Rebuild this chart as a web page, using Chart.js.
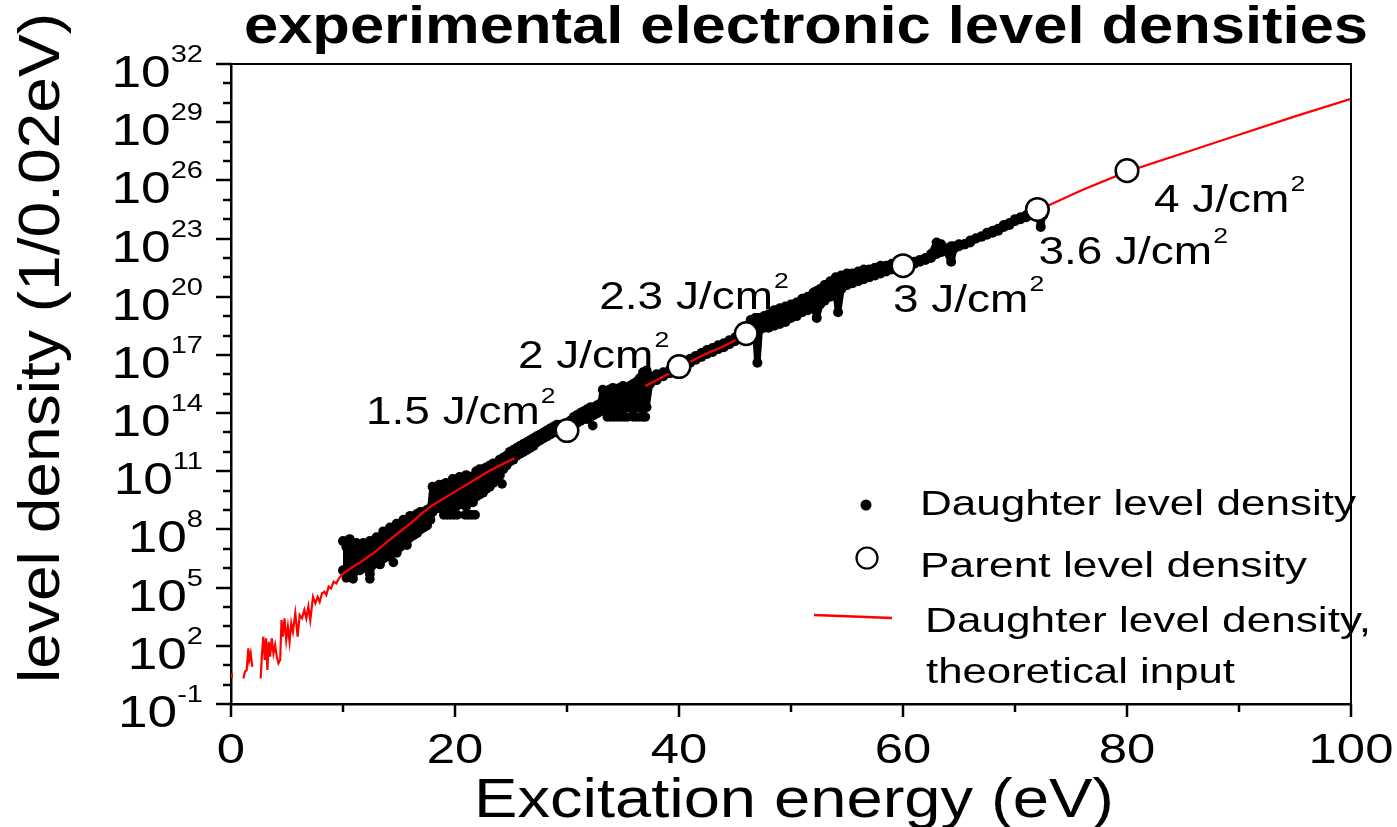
<!DOCTYPE html>
<html>
<head>
<meta charset="utf-8">
<title>experimental electronic level densities</title>
<script src="https://cdn.jsdelivr.net/npm/chart.js@4.4.1/dist/chart.umd.min.js"></script>
<style>
  html, body { margin: 0; padding: 0; background: #ffffff; }
  canvas { display: block; }
</style>
</head>
<body>
<canvas id="chart" width="1397" height="827"></canvas>
<script>
// ---------- data (energies in eV, densities as log10 of levels per 0.02 eV) ----------

// Parent level density at the measured fluences
const parentEnergy = [30, 40, 46, 60, 72, 80];
const parentLog    = [13.1, 16.4, 18.1, 21.6, 24.5, 26.5];
const parentFluence = ['1.5', '2', '2.3', '3', '3.6', '4'];

// Daughter level density: upper / lower extent of the measured band
const daughterEnergy = [
  10.0, 10.3, 10.6, 10.9, 11.2, 11.5, 11.8, 12.1, 12.4, 12.7,
  13.0, 13.3, 13.6, 13.9, 14.2, 14.5, 14.8, 15.1, 15.4, 15.7,
  16.0, 16.3, 16.6, 16.9, 17.2, 17.5, 17.8, 18.0, 18.3, 18.6,
  18.9, 19.2, 19.5, 19.8, 20.1, 20.4, 20.7, 21.0, 21.3, 21.6,
  21.9, 22.2, 22.5, 22.8, 23.1, 23.4, 23.7, 24.0, 24.3, 24.6,
  24.9, 25.2, 25.5, 25.8, 26.1, 26.4, 26.7, 27.0, 27.3, 27.6,
  27.9, 28.2, 28.5, 28.8, 29.1, 29.4, 29.7, 30.0, 30.3, 30.6,
  30.9, 31.2, 31.5, 31.8, 32.1, 32.4, 32.7, 33.0, 33.2, 33.5,
  33.8, 34.1, 34.4, 34.7, 35.0, 35.3, 35.6, 35.9, 36.2, 36.5,
  36.8, 37.1, 37.4, 38.0, 38.6, 39.2, 39.8, 40.2, 40.6, 41.0,
  41.5, 42.0, 42.5, 43.0, 43.5, 44.0, 44.5, 45.0, 45.5, 46.0,
  46.4, 46.8, 47.0, 47.2, 47.6, 48.0, 48.5, 49.0, 49.5, 50.0,
  50.5, 51.0, 51.5, 52.0, 52.3, 52.6, 53.0, 53.5, 54.0, 54.2,
  54.5, 55.0, 55.5, 56.0, 56.5, 57.0, 57.5, 58.0, 58.5, 59.0,
  59.5, 60.0, 60.5, 61.0, 61.5, 62.0, 62.5, 63.0, 63.4, 63.8,
  64.3, 64.6, 65.0, 65.5, 66.0, 66.5, 67.0, 67.5, 68.0, 68.5,
  69.0, 69.5, 70.0, 70.5, 71.0, 71.5, 72.0, 72.3, 72.5
];
const daughterUpperLog = [
  7.4, 7.1, 7.5, 7.2, 7.3, 7.0, 7.3, 7.1, 7.4, 7.3,
  7.6, 7.5, 7.9, 7.9, 8.1, 8.0, 8.3, 8.3, 8.5, 8.5,
  8.7, 8.6, 8.8, 8.9, 8.9, 9.0, 9.1, 10.2, 10.1, 10.3,
  10.2, 10.4, 10.3, 10.6, 10.5, 10.7, 10.6, 10.8, 10.7, 10.7,
  11.0, 11.1, 11.1, 11.2, 11.3, 11.4, 11.4, 11.6, 11.7, 11.8,
  12.0, 12.1, 12.2, 12.3, 12.4, 12.5, 12.6, 12.7, 12.8, 12.9,
  13.0, 13.1, 13.2, 13.3, 13.4, 13.4, 13.3, 13.4, 13.6, 13.8,
  13.9, 14.0, 14.1, 14.2, 14.3, 14.3, 14.4, 14.5, 15.2, 15.1,
  15.2, 15.3, 15.2, 15.3, 15.4, 15.3, 15.4, 15.5, 15.6, 15.8,
  16.1, 16.2, 15.9, 16.0, 16.1, 16.25, 16.45, 16.55, 16.7, 16.8,
  16.95, 17.1, 17.25, 17.35, 17.5, 17.6, 17.75, 17.9, 18.05, 18.2,
  18.8, 18.9, 18.9, 18.9, 19.0, 19.1, 19.3, 19.4, 19.5, 19.6,
  19.7, 19.9, 20.0, 20.2, 20.3, 20.4, 20.6, 20.8, 21.0, 20.9,
  21.1, 21.2, 21.2, 21.3, 21.4, 21.4, 21.5, 21.6, 21.6, 21.7,
  21.7, 21.7, 21.8, 21.8, 21.9, 22.0, 22.2, 22.8, 22.7, 22.5,
  22.6, 22.6, 22.7, 22.7, 22.9, 23.0, 23.1, 23.3, 23.4, 23.5,
  23.7, 23.8, 24.0, 24.1, 24.2, 24.3, 24.3, 24.1, 24.2
];
const daughterLowerLog = [
  5.9, 5.7, 6.0, 5.7, 6.1, 5.9, 6.1, 6.0, 5.7, 6.2,
  6.4, 6.2, 6.5, 6.6, 6.6, 6.9, 6.8, 7.1, 7.3, 7.2,
  7.6, 7.7, 7.8, 8.0, 8.1, 8.2, 8.5, 8.9, 9.1, 9.1,
  9.1, 9.1, 9.2, 9.2, 9.2, 9.3, 9.3, 9.2, 9.4, 9.4,
  9.7, 9.8, 9.9, 10.1, 10.2, 10.4, 10.6, 10.8, 11.1, 11.3,
  11.5, 11.6, 11.8, 11.9, 12.0, 12.1, 12.2, 12.3, 12.5, 12.6,
  12.7, 12.8, 12.9, 13.0, 13.0, 13.1, 13.2, 13.2, 13.3, 13.5,
  13.5, 13.6, 13.7, 13.7, 13.8, 13.9, 14.0, 14.1, 14.2, 14.3,
  14.2, 14.3, 14.2, 14.3, 14.2, 14.3, 14.3, 14.2, 14.3, 14.3,
  14.2, 14.3, 15.5, 15.7, 15.9, 16.05, 16.25, 16.35, 16.5, 16.6,
  16.75, 16.9, 17.05, 17.15, 17.3, 17.4, 17.55, 17.7, 17.85, 18.0,
  18.2, 18.3, 16.6, 18.3, 18.4, 18.4, 18.5, 18.6, 18.7, 18.9,
  19.0, 19.2, 19.3, 19.5, 18.9, 19.6, 19.8, 20.0, 20.2, 19.2,
  20.4, 20.6, 20.7, 20.8, 20.9, 21.0, 21.1, 21.2, 21.3, 21.4,
  21.5, 21.6, 21.7, 21.7, 21.8, 21.9, 22.0, 22.2, 22.3, 22.4,
  21.8, 22.5, 22.6, 22.7, 22.8, 23.0, 23.1, 23.2, 23.3, 23.4,
  23.6, 23.7, 23.9, 24.0, 24.1, 24.2, 24.3, 23.6, 24.2
];

// Daughter level density: isolated readings below the main band
const daughterOutlierEnergy = [
  10.3, 10.9, 12.4, 14.5,
  19.0, 19.3, 19.6, 19.9, 20.2, 20.9, 21.2, 21.5, 21.8,
  24.2, 32.3,
  33.6, 33.9, 34.2, 34.5, 34.8, 35.1, 35.4, 35.9, 36.2, 36.5, 36.8, 37.0
];
const daughterOutlierLog = [
  5.5, 5.45, 5.45, 6.3,
  8.75, 8.75, 8.75, 8.75, 8.75, 8.75, 8.75, 8.75, 8.75,
  10.35, 13.35,
  13.8, 13.8, 13.8, 13.8, 13.8, 13.8, 13.8, 13.8, 13.8, 13.8, 13.8, 13.8
];

// Daughter level density, theoretical input (null = not drawn)
const theoryEnergy = [
  0.0, 0.08, 0.5,
  1.10, 1.25, 1.40, 1.55, 1.64, 1.76, 1.90, 2.3,
  2.65, 2.77, 2.89, 3.01, 3.13, 3.25, 3.37, 3.49, 3.64, 3.79,
  3.94, 4.09, 4.24, 4.39, 4.51, 4.63, 4.78, 4.93, 5.08, 5.23,
  5.38, 5.53, 5.74, 5.95, 6.13, 6.34, 6.55, 6.73, 6.91, 7.08,
  7.32, 7.53, 7.74, 7.92, 8.13, 8.34, 8.51, 8.72, 8.93, 9.17,
  9.41, 9.64, 9.88, 10.1, 10.5, 10.94, 11.54, 12.1, 12.7, 13.4,
  14.0, 15.0, 16.0, 17.0, 17.8, 19.0, 20.0, 21.0, 22.2, 23.0,
  24.0, 25.3, 30.0,
  37.0, 38.0, 39.0, 40.0, 41.0, 42.0, 43.0, 44.0, 45.0, 46.0, 60.0,
  72.0, 76.0, 80.0, 85.0, 90.0, 95.0, 100.0
];
const theoryLog = [
  0.58, 0.35, null,
  0.32, 0.67, 0.75, 1.87, 1.27, 1.61, 0.92, null,
  0.32, 1.61, 2.47, 1.27, 2.39, 0.75, 2.21, 1.44, 2.39, 1.60,
  2.04, 1.44, 1.10, 1.27, 3.33, 2.47, 3.42, 2.30, 2.99, 2.21,
  3.16, 2.73, 3.68, 2.47, 3.59, 3.42, 3.85, 3.42, 4.02, 3.33,
  4.53, 4.19, 4.53, 4.27, 4.71, 4.79, 4.62, 5.05, 4.96, 5.31,
  5.22, 5.48, 5.65, 5.76, 5.92, 6.10, 6.30, 6.54, 6.77, 7.10,
  7.38, 7.85, 8.30, 8.80, 9.17, 9.60, 9.95, 10.30, 10.72, 11.00,
  11.30, 11.67, null,
  15.40, 15.70, 16.00, 16.35, 16.65, 16.95, 17.20, 17.45, 17.75, 18.05, null,
  24.45, 25.50, 26.45, 27.40, 28.35, 29.30, 30.20
];

// Axis ticks
const xTickValues  = [0, 20, 40, 60, 80, 100];
const xMinorValues = [10, 30, 50, 70, 90];
const yLabelExponents = [-1, 2, 5, 8, 11, 14, 17, 20, 23, 26, 29, 32];
const yMinorExponents = [0, 1, 3, 4, 6, 7, 9, 10, 12, 13, 15, 16, 18, 19, 21, 22, 24, 25, 27, 28, 30, 31];

// ---------- tables for the library ----------
const pow10 = v => (v === null ? null : Math.pow(10, v));

// closed outline of the band: along the upper edge, then back along the lower edge
const bandOutline = daughterEnergy.map((e, i) => ({ x: e, y: pow10(daughterUpperLog[i]) }));
for (let i = daughterEnergy.length - 1; i >= 0; i--) {
  bandOutline.push({ x: daughterEnergy[i], y: pow10(daughterLowerLog[i]) });
}
const outlierPoints = daughterOutlierEnergy.map((e, i) => ({ x: e, y: pow10(daughterOutlierLog[i]) }));
const theoryPoints = theoryEnergy.map((e, i) => ({ x: e, y: pow10(theoryLog[i]) }));
const parentPoints = parentEnergy.map((e, i) => ({ x: e, y: pow10(parentLog[i]) }));

// ---------- text helpers (wide sans lettering) ----------
const FAMILY = '"Liberation Sans", Arial, Helvetica, sans-serif';
const SX = 1.21;

function fontOf(size, bold) { return (bold ? 'bold ' : '') + size + 'px ' + FAMILY; }

function drawStr(ctx, s, x, y, size, opt) {
  opt = opt || {};
  const sx = opt.sx || SX;
  ctx.save();
  ctx.font = fontOf(size, opt.bold);
  ctx.fillStyle = '#000';
  ctx.textBaseline = 'alphabetic';
  ctx.textAlign = 'left';
  const w = ctx.measureText(s).width * sx;
  let x0 = x;
  if (opt.align === 'center') x0 = x - w / 2;
  else if (opt.align === 'right') x0 = x - w;
  ctx.translate(x0, y);
  ctx.scale(sx, 1);
  ctx.fillText(s, 0, 0);
  ctx.restore();
  return w;
}

function rawWidth(ctx, s, size, bold) {
  ctx.save();
  ctx.font = fontOf(size, bold);
  const w = ctx.measureText(s).width;
  ctx.restore();
  return w;
}

function drawFitted(ctx, s, x, y, size, targetWidth, bold, align) {
  const sx = targetWidth / rawWidth(ctx, s, size, bold);
  drawStr(ctx, s, x, y, size, { sx: sx, align: align || 'center', bold: bold });
}

// fluence label placement relative to each parent marker (pixels)
const fluenceOffsets = [
  { dx: -201, dy: -7 },
  { dx: -161, dy: 1 },
  { dx: -147, dy: -25 },
  { dx: -10, dy: 46 },
  { dx: 1, dy: 55 },
  { dx: 27, dy: 41 }
];

const decorations = {
  id: 'decorations',
  afterDraw(chart) {
    const ctx = chart.ctx;
    const xs = chart.scales.x, ys = chart.scales.y;
    const a = chart.chartArea;
    ctx.save();
    ctx.strokeStyle = '#000';
    ctx.lineCap = 'butt';

    // top and right frame
    ctx.lineWidth = 2;
    ctx.beginPath();
    ctx.moveTo(a.left, a.top);
    ctx.lineTo(a.right, a.top);
    ctx.lineTo(a.right, a.bottom + 1);
    ctx.stroke();

    // x tick marks
    ctx.lineWidth = 2.5;
    xTickValues.forEach(v => {
      const p = Math.round(xs.getPixelForValue(v));
      ctx.beginPath(); ctx.moveTo(p, a.bottom); ctx.lineTo(p, a.bottom + 13); ctx.stroke();
    });
    xMinorValues.forEach(v => {
      const p = Math.round(xs.getPixelForValue(v));
      ctx.beginPath(); ctx.moveTo(p, a.bottom); ctx.lineTo(p, a.bottom + 8); ctx.stroke();
    });
    // y tick marks
    yLabelExponents.forEach(k => {
      const p = Math.round(ys.getPixelForValue(Math.pow(10, k)));
      ctx.beginPath(); ctx.moveTo(a.left, p); ctx.lineTo(a.left - 15, p); ctx.stroke();
    });
    yMinorExponents.forEach(k => {
      const p = Math.round(ys.getPixelForValue(Math.pow(10, k)));
      ctx.beginPath(); ctx.moveTo(a.left, p); ctx.lineTo(a.left - 8, p); ctx.stroke();
    });

    // x tick labels
    xTickValues.forEach(v => {
      drawStr(ctx, String(v), xs.getPixelForValue(v), a.bottom + 59, 42, { align: 'center' });
    });
    // y tick labels: 10 with raised exponent
    const labelRight = a.left - 28;
    yLabelExponents.forEach(k => {
      const p = ys.getPixelForValue(Math.pow(10, k));
      const sup = String(k);
      const sw = rawWidth(ctx, sup, 24) * SX;
      drawStr(ctx, sup, labelRight - sw, p - 2, 24);
      drawStr(ctx, '10', labelRight - sw, p + 23, 44, { align: 'right' });
    });

    // titles
    drawFitted(ctx, 'experimental electronic level densities', 806, 43, 51, 1124, true);
    drawFitted(ctx, 'Excitation energy (eV)', 794, 817, 56, 640, false);
    ctx.save();
    ctx.translate(59, 348);
    ctx.rotate(-Math.PI / 2);
    ctx.font = fontOf(57, false);
    const yt = 'level density (1/0.02eV)';
    ctx.scale(670 / ctx.measureText(yt).width, 1);
    ctx.fillStyle = '#000';
    ctx.textAlign = 'center';
    ctx.textBaseline = 'alphabetic';
    ctx.fillText(yt, 0, 0);
    ctx.restore();

    // fluence labels beside the parent markers
    parentEnergy.forEach((e, i) => {
      const px = xs.getPixelForValue(e) + fluenceOffsets[i].dx;
      const py = ys.getPixelForValue(Math.pow(10, parentLog[i])) + fluenceOffsets[i].dy;
      const w = drawStr(ctx, parentFluence[i] + ' J/cm', px, py, 38);
      drawStr(ctx, '2', px + w + 1, py - 21, 22);
    });

    // legend
    ctx.fillStyle = '#000';
    ctx.beginPath(); ctx.arc(866, 505, 5.5, 0, Math.PI * 2); ctx.fill();
    ctx.lineWidth = 2.2;
    ctx.fillStyle = '#fff';
    ctx.beginPath(); ctx.arc(867, 558, 10.5, 0, Math.PI * 2); ctx.fill(); ctx.stroke();
    ctx.strokeStyle = '#ff0000';
    ctx.lineWidth = 2.5;
    ctx.beginPath(); ctx.moveTo(814, 615); ctx.lineTo(892, 618); ctx.stroke();
    drawFitted(ctx, 'Daughter level density', 920, 515, 35, 436, false, 'left');
    drawFitted(ctx, 'Parent level density', 920, 577, 35, 387, false, 'left');
    drawFitted(ctx, 'Daughter level density,', 925, 632, 35, 446, false, 'left');
    drawFitted(ctx, 'theoretical input', 926, 683, 35, 309, false, 'left');

    ctx.restore();
  }
};

new Chart(document.getElementById('chart'), {
  type: 'scatter',
  data: {
    datasets: [
      {
        label: 'Daughter level density',
        data: bandOutline,
        showLine: true,
        fill: 'shape',
        backgroundColor: '#000',
        borderColor: '#000',
        borderWidth: 6.5,
        borderJoinStyle: 'round',
        borderCapStyle: 'round',
        pointRadius: 5,
        pointBorderWidth: 0,
        pointBackgroundColor: '#000',
        order: 4
      },
      {
        label: 'Daughter level density (isolated)',
        data: outlierPoints,
        showLine: false,
        pointRadius: 4.8,
        pointBorderWidth: 0,
        pointBackgroundColor: '#000',
        order: 3
      },
      {
        label: 'Daughter level density, theoretical input',
        data: theoryPoints,
        showLine: true,
        spanGaps: false,
        fill: false,
        borderColor: '#ff0000',
        borderWidth: 2.2,
        pointRadius: 0,
        order: 2
      },
      {
        label: 'Parent level density',
        data: parentPoints,
        showLine: false,
        pointRadius: 11.3,
        pointBorderWidth: 2.5,
        pointBorderColor: '#000',
        pointBackgroundColor: '#fff',
        order: 1
      }
    ]
  },
  options: {
    responsive: false,
    animation: false,
    events: [],
    layout: { padding: { top: 64, right: 46, left: 0, bottom: 0 } },
    plugins: {
      legend: { display: false },
      tooltip: { enabled: false },
      title: { display: false }
    },
    scales: {
      x: {
        type: 'linear',
        min: 0,
        max: 100,
        ticks: { display: false },
        grid: { display: false },
        border: { display: true, color: '#000', width: 2.5 },
        afterFit(scale) { scale.height = 123; }
      },
      y: {
        type: 'logarithmic',
        min: 1e-1,
        max: 1e32,
        ticks: { display: false },
        grid: { display: false },
        border: { display: true, color: '#000', width: 2.5 },
        afterFit(scale) { scale.width = 231; }
      }
    }
  },
  plugins: [decorations]
});
</script>
</body>
</html>
